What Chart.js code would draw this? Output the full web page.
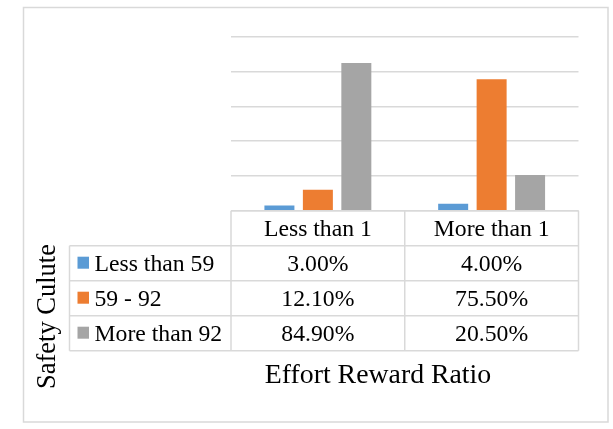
<!DOCTYPE html>
<html>
<head>
<meta charset="utf-8">
<script src="https://cdn.jsdelivr.net/npm/chart.js@4/dist/chart.umd.min.js"></script>
<style>
  body { margin: 0; background: #ffffff; }
  canvas { display: block; }
</style>
</head>
<body>
<canvas id="chart" width="613" height="429"></canvas>
<script>
// categories along the x axis (Effort Reward Ratio)
const categories = ["Less than 1", "More than 1"];
// series (Safety Culute groups)
const seriesNames = ["Less than 59", "59 - 92", "More than 92"];
const lessThan59 = [0.03, 0.04];
const from59to92 = [0.121, 0.755];
const moreThan92 = [0.849, 0.205];
const seriesColors = ["#5b9bd5", "#ed7d31", "#a5a5a5"];
const xTitle = "Effort Reward Ratio";
const yTitle = "Safety Culute";

const lineColor = "#d9d9d9";
const serif = "'Liberation Serif', 'DejaVu Serif', serif";

//formats a value like the data table cells
const pct = (v) => (v * 100).toFixed(2) + "%";

//Plugin that draws the outer frame, data table and titles
const tablePlugin = {
  id: "dataTable",
  beforeDraw(chart) {
    const ctx = chart.ctx;
    ctx.save();
    ctx.fillStyle = "#ffffff";
    ctx.fillRect(0, 0, chart.width, chart.height);
    ctx.strokeStyle = lineColor;
    ctx.lineWidth = 1.5;
    ctx.strokeRect(23.5, 7.5, 584.5, 414.5);
    ctx.restore();
  },
  afterDraw(chart) {
    const ctx = chart.ctx;
    const area = chart.chartArea;
    const xs = chart.scales.x;
    const rowH = 35;
    const legendLeft = 69.5;
    const top = area.bottom;
    // column edges come from the category scale
    const half = (xs.getPixelForValue(1) - xs.getPixelForValue(0)) / 2;
    const edges = [area.left];
    categories.forEach((c, i) => edges.push(xs.getPixelForValue(i) + half));
    const rows = chart.data.datasets.length;

    ctx.save();
    ctx.strokeStyle = lineColor;
    ctx.lineWidth = 1.5;
    // horizontal lines
    ctx.beginPath();
    ctx.moveTo(area.left, top);
    ctx.lineTo(area.right, top);
    for (let r = 1; r <= rows + 1; r++) {
      ctx.moveTo(legendLeft, top + r * rowH);
      ctx.lineTo(area.right, top + r * rowH);
    }
    // vertical lines
    ctx.moveTo(legendLeft, top + rowH);
    ctx.lineTo(legendLeft, top + (rows + 1) * rowH);
    edges.forEach((x) => {
      ctx.moveTo(x, top);
      ctx.lineTo(x, top + (rows + 1) * rowH);
    });
    ctx.stroke();

    // header texts
    ctx.fillStyle = "#000000";
    ctx.font = "23.7px " + serif;
    ctx.textAlign = "center";
    ctx.textBaseline = "alphabetic";
    categories.forEach((c, i) => {
      ctx.fillText(c, xs.getPixelForValue(i), top + rowH / 2 + 7.5);
    });
    // rows: legend key + values
    chart.data.datasets.forEach((ds, r) => {
      const cy = top + (r + 1) * rowH + rowH / 2;
      ctx.fillStyle = ds.backgroundColor;
      ctx.fillRect(77.5, cy - 6.5, 11.5, 12);
      ctx.fillStyle = "#000000";
      ctx.textAlign = "left";
      ctx.fillText(ds.label, 94.5, cy + 7.5);
      ctx.textAlign = "center";
      ds.data.forEach((v, i) => {
        ctx.fillText(pct(v), xs.getPixelForValue(i), cy + 7.5);
      });
    });

    // axis titles
    ctx.font = "27.8px " + serif;
    ctx.textAlign = "center";
    ctx.fillText(xTitle, 378, 383);
    ctx.font = "26.5px " + serif;
    ctx.translate(55, 316.5);
    ctx.rotate(-Math.PI / 2);
    ctx.fillText(yTitle, 0, 0);
    ctx.restore();
  },
};

const datasetValues = [lessThan59, from59to92, moreThan92];

new Chart(document.getElementById("chart"), {
  type: "bar",
  plugins: [tablePlugin],
  data: {
    labels: categories,
    datasets: seriesNames.map((name, i) => ({
      label: name,
      data: datasetValues[i],
      backgroundColor: seriesColors[i],
      borderWidth: 0,
      categoryPercentage: 0.664,
      barPercentage: 0.78,
    })),
  },
  options: {
    responsive: false,
    animation: false,
    layout: {
      padding: { left: 231, right: 34.5, top: 36.7, bottom: 218.3 },
    },
    plugins: {
      legend: { display: false },
      tooltip: { enabled: false },
    },
    scales: {
      x: { display: false },
      y: {
        min: 0,
        max: 1,
        ticks: { display: false, stepSize: 0.2 },
        border: { display: false },
        grid: { color: lineColor, lineWidth: 1.5, drawTicks: false },
      },
    },
  },
});
</script>
</body>
</html>
